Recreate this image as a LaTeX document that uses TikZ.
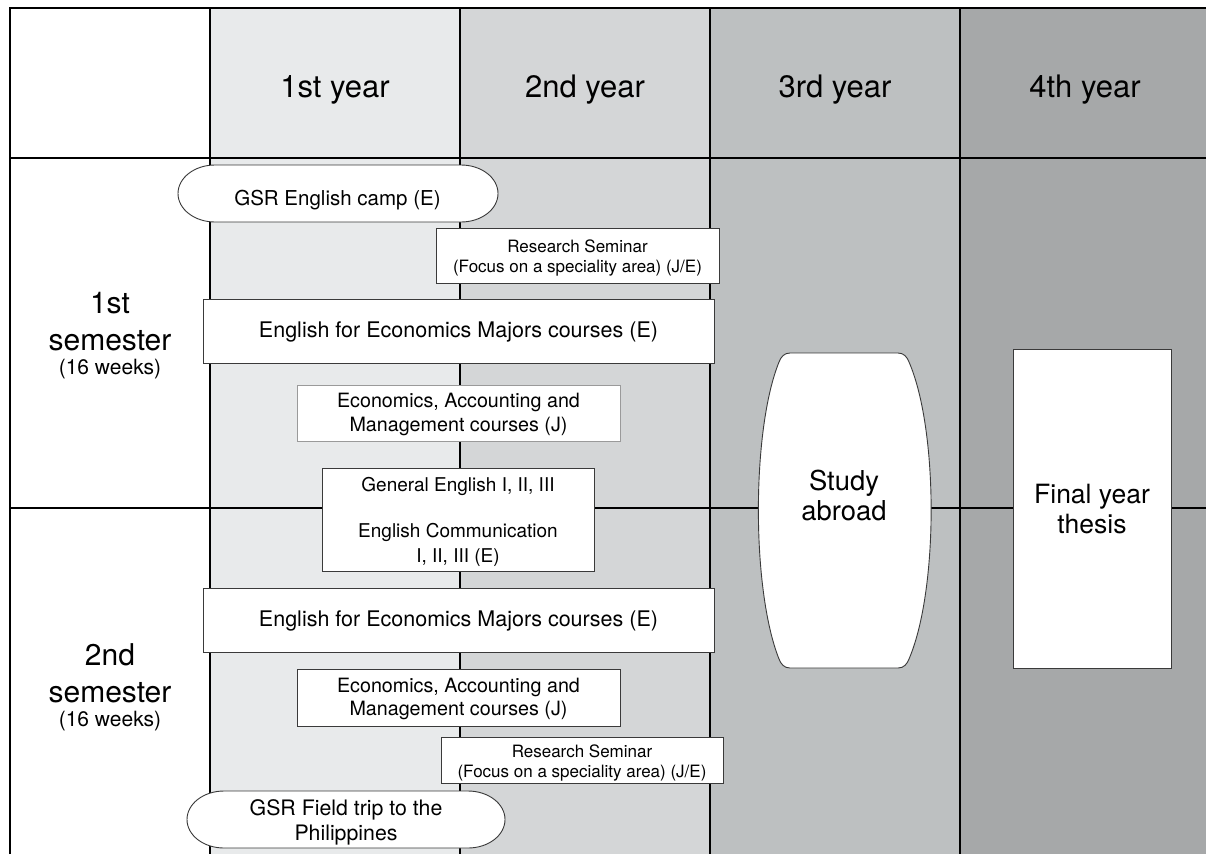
\documentclass[tikz,border=0pt]{standalone}
\usepackage{fontspec}
\setmainfont{TeX Gyre Heros}
\newcommand\setfs[2]{\fontsize{#1}{#2}\selectfont}
\definecolor{yearA}{HTML}{E8EAEB}
\definecolor{yearB}{HTML}{D4D6D7}
\definecolor{yearC}{HTML}{BDC0C1}
\definecolor{yearD}{HTML}{A6A8A9}
\definecolor{boxline}{HTML}{3A3A3A}
\definecolor{softline}{HTML}{9A9A9A}
\begin{document}
\begin{tikzpicture}[x=1pt,y=-1pt,
  grid/.style={line width=1.5pt, draw=black},
  outline/.style={draw=boxline, fill=white, line width=0.9pt},
  box/.style={outline, inner sep=0pt, shape=rectangle},
  txt/.style={inner sep=0pt, align=center, text=black}]
\useasboundingbox (0,0) rectangle (1206,854);
\fill[white] (0,0) rectangle (1206,854);

% year columns
\fill[yearA] (210,8) rectangle (460,854);
\fill[yearB] (460,8) rectangle (710,854);
\fill[yearC] (710,8) rectangle (960,854);
\fill[yearD] (960,8) rectangle (1206,854);

% table rules
\draw[grid] (10,854) -- (10,8) -- (1206,8);
\draw[grid] (10,158) -- (1206,158);
\draw[grid] (10,508) -- (1206,508);
\foreach \x in {210,460,710,960} \draw[grid] (\x,8) -- (\x,854);

% column headings
\node[txt, anchor=base, font=\setfs{31}{36}] (y1) at (335,97) {1st year};
\node[txt, anchor=base, font=\setfs{31}{36}] (y2) at (585,97) {2nd year};
\node[txt, anchor=base, font=\setfs{31}{36}] (y3) at (835,97) {3rd year};
\node[txt, anchor=base, font=\setfs{31}{36}] (y4) at (1085,97) {4th year};

% row headings
\node[txt, anchor=base, font=\setfs{30}{36}] (s1a) at (110,313) {1st};
\node[txt, anchor=base, font=\setfs{30}{36}] (s1b) at (110,350) {semester};
\node[txt, anchor=base, font=\setfs{21}{25}] (s1c) at (110,374) {(16 weeks)};
\node[txt, anchor=base, font=\setfs{30}{36}] (s2a) at (110,665) {2nd};
\node[txt, anchor=base, font=\setfs{30}{36}] (s2b) at (110,702) {semester};
\node[txt, anchor=base, font=\setfs{21}{25}] (s2c) at (110,726) {(16 weeks)};

% first semester courses
\draw[outline] (215,165) -- (461,165)
  arc[start angle=90, end angle=-90, x radius=37pt, y radius=28.5pt]
  -- (215,222)
  arc[start angle=270, end angle=90, x radius=37pt, y radius=28.5pt] -- cycle;
\node[txt, anchor=base, font=\setfs{20.5}{24}] (camp) at (337.5,205) {GSR English camp (E)};

\node[box, minimum width=283pt, minimum height=55pt] (rs1) at (577.5,255.5) {};
\node[txt, font=\setfs{17}{20}] (rs1t) at (577.5,257.7) {Research Seminar\\(Focus on a speciality area) (J/E)};

\node[box, minimum width=511pt, minimum height=64pt] (eem1) at (458.5,331) {};
\node[txt, anchor=base, font=\setfs{21.5}{25}] (eem1t) at (458.5,337) {English for Economics Majors courses (E)};

\node[box, draw=softline, minimum width=323pt, minimum height=56pt] (eam1) at (458.5,413) {};
\node[txt, font=\setfs{19.7}{24}] (eam1t) at (458.5,414.9) {Economics, Accounting and\\Management courses (J)};

% courses spanning both semesters
\node[box, minimum width=272pt, minimum height=103pt] (ge) at (458,519.5) {};
\node[txt, font=\setfs{19}{25}] (get) at (458,521.5) {General English I, II, III\\[21pt]English Communication\\I, II, III (E)};

% barrel-shaped block: flat top and bottom, bulging sides
\draw[outline] (790,353) -- (898,353)
  .. controls (904,353) and (907,357) .. (909,362)
  .. controls (938.5,430) and (938.5,590) .. (909,659)
  .. controls (907,664) and (904,668) .. (898,668)
  -- (790,668)
  .. controls (784,668) and (781,664) .. (779,659)
  .. controls (751.5,590) and (751.5,430) .. (779,362)
  .. controls (781,357) and (784,353) .. (790,353) -- cycle;
\node[txt, font=\setfs{27.4}{30}] (abroad) at (844,495) {Study\\abroad};

\node[box, minimum width=158pt, minimum height=319pt] (thesis) at (1092,508.5) {};
\node[txt, font=\setfs{26.5}{30}] (thesist) at (1092,509) {Final year\\thesis};

% second semester courses
\node[box, minimum width=511pt, minimum height=64pt] (eem2) at (458.5,620) {};
\node[txt, anchor=base, font=\setfs{21.5}{25}] (eem2t) at (458.5,626) {English for Economics Majors courses (E)};

\node[box, minimum width=323pt, minimum height=57pt] (eam2) at (458.5,697.5) {};
\node[txt, font=\setfs{19.7}{23}] (eam2t) at (458.5,699.4) {Economics, Accounting and\\Management courses (J)};

\node[box, minimum width=282pt, minimum height=46pt] (rs2) at (582,760) {};
\node[txt, font=\setfs{17}{20}] (rs2t) at (582,762.6) {Research Seminar\\(Focus on a speciality area) (J/E)};

\draw[outline] (224,791) -- (468,791)
  arc[start angle=90, end angle=-90, x radius=37pt, y radius=28.5pt]
  -- (224,848)
  arc[start angle=270, end angle=90, x radius=37pt, y radius=28.5pt] -- cycle;
\node[txt, font=\setfs{21.3}{25}] (trip) at (346,822) {GSR Field trip to the\\Philippines};
\end{tikzpicture}
\end{document}
